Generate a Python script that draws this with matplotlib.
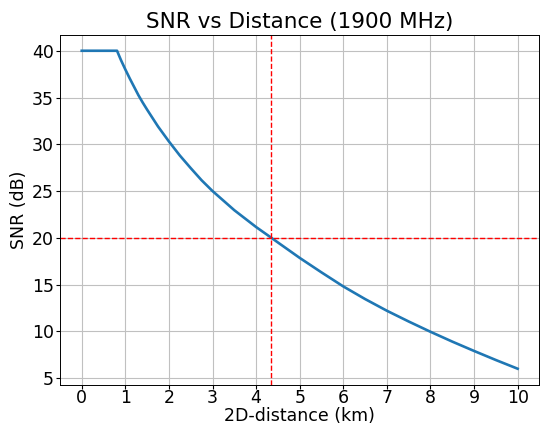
import matplotlib
matplotlib.use("Agg")
import matplotlib.pyplot as plt
import numpy as np

# distance (km) and SNR (dB) samples along the curve
distance_km = [0.0, 0.81, 0.85, 0.9, 1.0, 1.1, 1.2, 1.3, 1.4, 1.5, 1.75, 2.0,
               2.25, 2.5, 2.75, 3.0, 3.5, 4.0, 4.35, 4.5, 5.0, 5.5, 6.0, 6.5,
               7.0, 7.5, 8.0, 8.5, 9.0, 9.5, 10.0]
snr_db = [40.0, 40.0, 39.55, 39.0, 38.0, 37.05, 36.15, 35.25, 34.45, 33.7, 31.9, 30.3,
          28.8, 27.45, 26.15, 25.0, 22.95, 21.15, 20.0, 19.5, 17.85, 16.3, 14.8, 13.45,
          12.2, 11.05, 9.95, 8.9, 7.9, 6.93, 6.0]

snr_threshold = 20
max_distance = 4.35

fig = plt.figure(figsize=(5.4, 4.25), dpi=100)
ax = fig.add_axes([0.111, 0.095, 0.888, 0.823])

ax.plot(distance_km, snr_db, color='C0', linewidth=1.9)
ax.axhline(snr_threshold, color='r', linestyle='--', linewidth=1)
ax.axvline(max_distance, color='r', linestyle='--', linewidth=1)

ax.set_xticks(np.arange(0, 11, 1))
ax.set_yticks(np.arange(5, 45, 5))
ax.tick_params(labelsize=12.5, length=3, pad=1.5)
ax.tick_params(axis='x', pad=0.5)
ax.set_xlabel('2D-distance (km)', fontsize=12.5, labelpad=0)
ax.set_ylabel('SNR (dB)', fontsize=12.5, labelpad=3)
ax.set_title('SNR vs Distance (1900 MHz)', fontsize=15.5, pad=5)
ax.grid(True, color='#c0c0c0', linewidth=0.8)
for s in ax.spines.values():
    s.set_linewidth(0.7)

fig.savefig("out.png", dpi=100)
